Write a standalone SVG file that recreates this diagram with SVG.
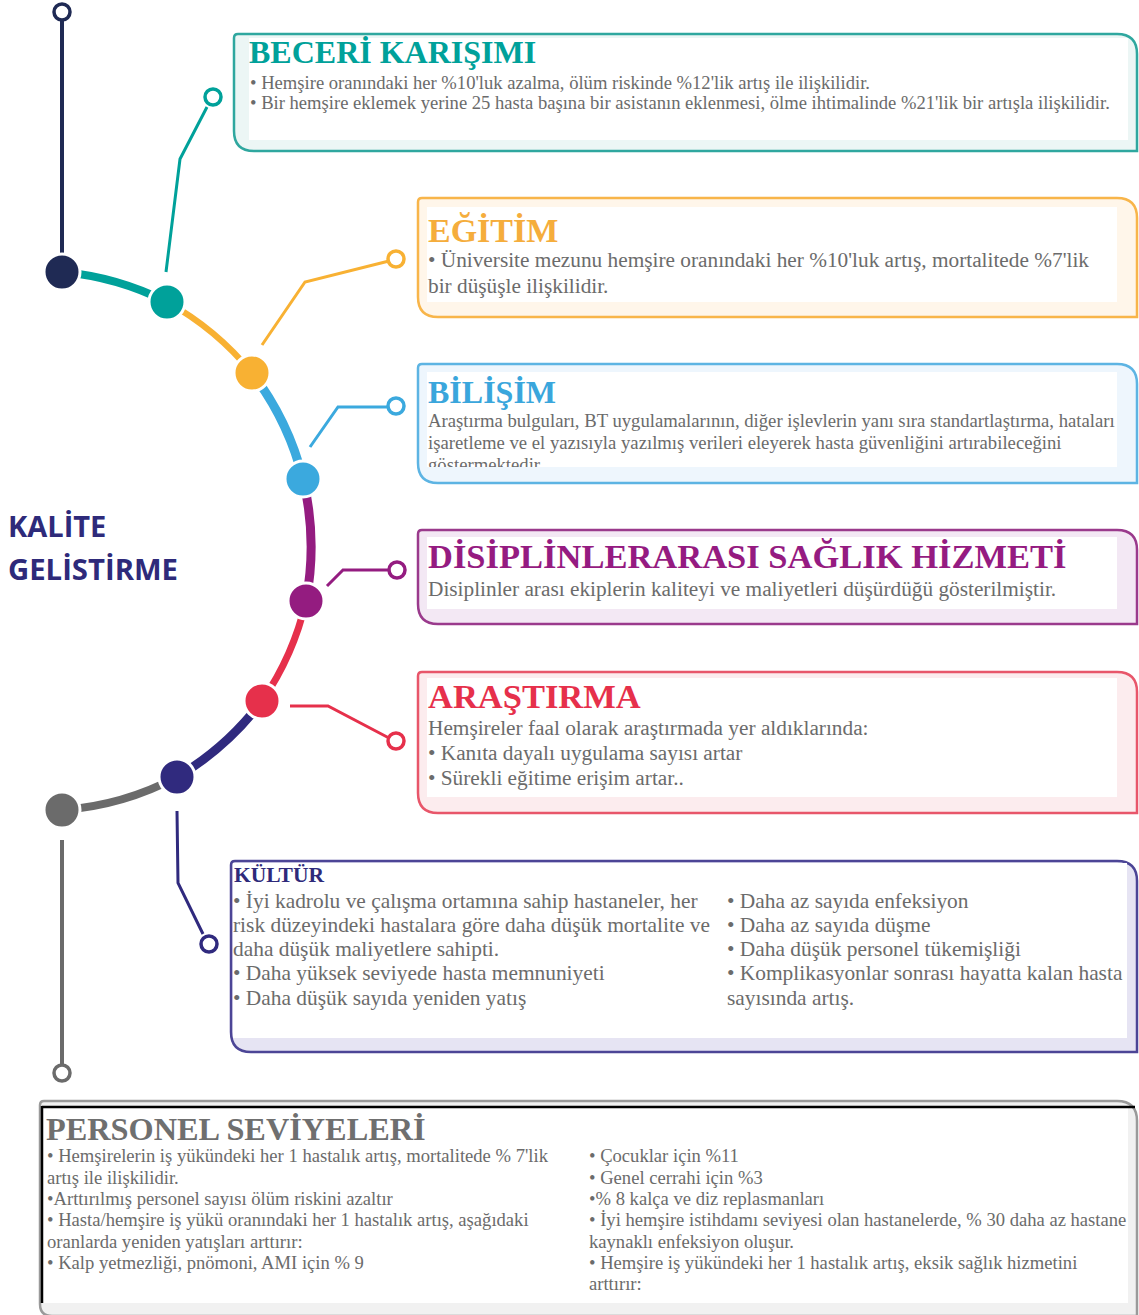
<svg xmlns="http://www.w3.org/2000/svg" width="1139" height="1315" viewBox="0 0 1139 1315">
<defs>
<style>
.body{font-family:"Liberation Serif","Times New Roman",serif;fill:#6b6b6b;}
.ttl{font-family:"Liberation Serif","Times New Roman",serif;font-weight:bold;}
.seg{fill:none;stroke-linecap:butt;}
.br{fill:none;stroke-width:3;stroke-linejoin:miter;}
.ring{fill:#fff;stroke-width:3.5;}
.dot{stroke:#fff;stroke-width:3;}
.frame{stroke-width:2.5;}
.inner{fill:#fff;}
.side{font-family:"Open Sans","DejaVu Sans",sans-serif;font-weight:bold;fill:#2e2a7a;font-size:29px;}
.b1{font-size:18.6px;}
.b2{font-size:21.3px;}
.b3{font-size:18.7px;}
.b4{font-size:21.3px;}
.b6{font-size:21.4px;}
.b7{font-size:18.6px;}
</style>
<clipPath id="clipBilisim"><rect x="427" y="372" width="690" height="95"/></clipPath>
</defs>
<rect width="1139" height="1315" fill="#fff"/>

<g id="side-label">
<text class="side" x="8" y="537">KALİTE</text>
<text class="side" x="8" y="580" textLength="170" lengthAdjust="spacingAndGlyphs">GELİSTİRME</text>
</g>

<g id="connectors">
<line x1="62" y1="20" x2="62" y2="255" stroke="#1f2a54" stroke-width="4"/>
<path class="seg" d="M62,272 A290,290 0 0 1 167,302" stroke="#00a19a" stroke-width="8"/>
<path class="seg" d="M167,302 A290,290 0 0 1 252,373" stroke="#f8b133" stroke-width="6"/>
<path class="seg" d="M252,373 A290,290 0 0 1 303,479" stroke="#3ba9de" stroke-width="9"/>
<path class="seg" d="M303,479 A290,290 0 0 1 306,601" stroke="#941c80" stroke-width="9"/>
<path class="seg" d="M306,601 A290,290 0 0 1 262,701" stroke="#e6304b" stroke-width="7"/>
<path class="seg" d="M262,701 A290,290 0 0 1 177,777" stroke="#302a7e" stroke-width="9"/>
<path class="seg" d="M177,777 A290,290 0 0 1 62,810" stroke="#6b6b6b" stroke-width="8"/>
<line x1="62" y1="840" x2="62" y2="1065" stroke="#6b6b6b" stroke-width="4"/>
<polyline class="br" points="166,272 180,159 207,107" stroke="#00a19a"/>
<polyline class="br" points="262,345 305,282 389,261" stroke="#f8b133"/>
<polyline class="br" points="310,447 338,407 389,407" stroke="#3ba9de"/>
<polyline class="br" points="327,586 343,570 389,570" stroke="#941c80"/>
<polyline class="br" points="290,706 328,706 389,738" stroke="#e6304b"/>
<polyline class="br" points="177,811 178,883 203,934" stroke="#302a7e"/>
<circle class="ring" cx="62" cy="12" r="8" stroke="#1f2a54"/>
<circle class="ring" cx="213" cy="97" r="8" stroke="#00a19a"/>
<circle class="ring" cx="396" cy="259" r="8" stroke="#f8b133"/>
<circle class="ring" cx="396" cy="406" r="8" stroke="#3ba9de"/>
<circle class="ring" cx="397" cy="570" r="8" stroke="#941c80"/>
<circle class="ring" cx="396" cy="741" r="8" stroke="#e6304b"/>
<circle class="ring" cx="209" cy="944" r="8" stroke="#302a7e"/>
<circle class="ring" cx="62" cy="1073" r="8" stroke="#6b6b6b"/>
</g>

<g id="timeline-dots">
<circle class="dot" cx="62" cy="272" r="18" fill="#1f2a54"/>
<circle class="dot" cx="167" cy="302" r="18" fill="#00a19a"/>
<circle class="dot" cx="252" cy="373" r="18" fill="#f8b133"/>
<circle class="dot" cx="303" cy="479" r="18" fill="#3ba9de"/>
<circle class="dot" cx="306" cy="601" r="18" fill="#941c80"/>
<circle class="dot" cx="262" cy="701" r="18" fill="#e6304b"/>
<circle class="dot" cx="177" cy="777" r="18" fill="#302a7e"/>
<circle class="dot" cx="62" cy="810" r="18" fill="#6b6b6b"/>
</g>

<g id="node-beceri">
<path class="frame" d="M238,34 H1117 Q1137,34 1137,54 V151 H254 Q234,151 234,131 V38 Q234,34 238,34 Z" fill="#ecf6f5" stroke="#2fa79f"/>
<rect class="inner" x="249" y="38" width="879" height="102"/>
<text class="ttl" x="249" y="63" font-size="32" fill="#00a19a">BECERİ KARIŞIMI</text>
<text class="body b1" x="250" y="89">• Hemşire oranındaki her %10'luk azalma, ölüm riskinde %12'lik artış ile ilişkilidir.</text>
<text class="body b1" x="250" y="109">• Bir hemşire eklemek yerine 25 hasta başına bir asistanın eklenmesi, ölme ihtimalinde %21'lik bir artışla ilişkilidir.</text>
</g>

<g id="node-egitim">
<path class="frame" d="M422,198 H1117 Q1137,198 1137,218 V317 H438 Q418,317 418,297 V202 Q418,198 422,198 Z" fill="#fff6ea" stroke="#f8b54a"/>
<rect class="inner" x="427" y="207" width="690" height="95"/>
<text class="ttl" x="428" y="242" font-size="34" fill="#f5ad3c">EĞİTİM</text>
<text class="body b2" x="428" y="267">• Üniversite mezunu hemşire oranındaki her %10'luk artış, mortalitede %7'lik</text>
<text class="body b2" x="428" y="293">bir düşüşle ilişkilidir.</text>
</g>

<g id="node-bilisim">
<path class="frame" d="M422,364 H1117 Q1137,364 1137,384 V483 H438 Q418,483 418,463 V368 Q418,364 422,364 Z" fill="#eef6fd" stroke="#5db4e3"/>
<rect class="inner" x="427" y="372" width="690" height="95"/>
<text class="ttl" x="428" y="403" font-size="32" fill="#3aa6dc">BİLİŞİM</text>
<g clip-path="url(#clipBilisim)">
<text class="body b3" x="428" y="427">Araştırma bulguları, BT uygulamalarının, diğer işlevlerin yanı sıra standartlaştırma, hataları</text>
<text class="body b3" x="428" y="449">işaretleme ve el yazısıyla yazılmış verileri eleyerek hasta güvenliğini artırabileceğini</text>
<text class="body b3" x="428" y="471">göstermektedir.</text>
</g>
</g>

<g id="node-disiplin">
<path class="frame" d="M422,530 H1117 Q1137,530 1137,550 V624 H438 Q418,624 418,604 V534 Q418,530 422,530 Z" fill="#f3e8f4" stroke="#9a3a8c"/>
<rect class="inner" x="427" y="537" width="690" height="72"/>
<text class="ttl" x="428" y="568" font-size="34.5" fill="#951b81">DİSİPLİNLERARASI SAĞLIK HİZMETİ</text>
<text class="body b4" x="428" y="596">Disiplinler arası ekiplerin kaliteyi ve maliyetleri düşürdüğü gösterilmiştir.</text>
</g>

<g id="node-arastirma">
<path class="frame" d="M422,672 H1117 Q1137,672 1137,692 V813 H438 Q418,813 418,793 V676 Q418,672 422,672 Z" fill="#fcecee" stroke="#e8566a"/>
<rect class="inner" x="427" y="678" width="690" height="119"/>
<text class="ttl" x="428" y="708" font-size="34.5" fill="#e6304b">ARAŞTIRMA</text>
<text class="body b4" x="428" y="735">Hemşireler faal olarak araştırmada yer aldıklarında:</text>
<text class="body b4" x="428" y="760">• Kanıta dayalı uygulama sayısı artar</text>
<text class="body b4" x="428" y="785">• Sürekli eğitime erişim artar..</text>
</g>

<g id="node-kultur">
<path class="frame" d="M235,861 H1117 Q1137,861 1137,881 V1052 H251 Q231,1052 231,1032 V865 Q231,861 235,861 Z" fill="#e6e4f3" stroke="#4c4596"/>
<rect class="inner" x="233" y="863" width="894" height="175"/>
<text class="ttl" x="234" y="882" font-size="21.5" fill="#2e2a7a">KÜLTÜR</text>
<text class="body b6" x="233" y="907.5">• İyi kadrolu ve çalışma ortamına sahip hastaneler, her</text>
<text class="body b6" x="233" y="932">risk düzeyindeki hastalara göre daha düşük mortalite ve</text>
<text class="body b6" x="233" y="956">daha düşük maliyetlere sahipti.</text>
<text class="body b6" x="233" y="980">• Daha yüksek seviyede hasta memnuniyeti</text>
<text class="body b6" x="233" y="1004.5">• Daha düşük sayıda yeniden yatış</text>
<text class="body b6" x="727" y="907.5">• Daha az sayıda enfeksiyon</text>
<text class="body b6" x="727" y="932">• Daha az sayıda düşme</text>
<text class="body b6" x="727" y="956">• Daha düşük personel tükemişliği</text>
<text class="body b6" x="727" y="980">• Komplikasyonlar sonrası hayatta kalan hasta</text>
<text class="body b6" x="727" y="1004.5">sayısında artış.</text>
</g>

<g id="node-personel">
<path class="frame" d="M44,1101 H1117 Q1137,1101 1137,1121 V1316 H52 Q40,1316 40,1304 V1105 Q40,1101 44,1101 Z" fill="#f1f1f1" stroke="#9a9a9a"/>
<rect class="inner" x="43" y="1108" width="1085" height="195"/>
<line x1="42" y1="1107" x2="1135" y2="1107" stroke="#000" stroke-width="2.5"/>
<line x1="42" y1="1106" x2="42" y2="1303" stroke="#000" stroke-width="2.5"/>
<text class="ttl" x="46" y="1140" font-size="32.3" fill="#6f6f6f">PERSONEL SEVİYELERİ</text>
<text class="body b7" x="47" y="1162">• Hemşirelerin iş yükündeki her 1 hastalık artış, mortalitede % 7'lik</text>
<text class="body b7" x="47" y="1183.5">artış ile ilişkilidir.</text>
<text class="body b7" x="47" y="1205">•Arttırılmış personel sayısı ölüm riskini azaltır</text>
<text class="body b7" x="47" y="1226">• Hasta/hemşire iş yükü oranındaki her 1 hastalık artış, aşağıdaki</text>
<text class="body b7" x="47" y="1247.5">oranlarda yeniden yatışları arttırır:</text>
<text class="body b7" x="47" y="1269">• Kalp yetmezliği, pnömoni, AMI için % 9</text>
<text class="body b7" x="589" y="1162">• Çocuklar için %11</text>
<text class="body b7" x="589" y="1183.5">• Genel cerrahi için %3</text>
<text class="body b7" x="589" y="1205">•% 8 kalça ve diz replasmanları</text>
<text class="body b7" x="589" y="1226">• İyi hemşire istihdamı seviyesi olan hastanelerde, % 30 daha az hastane</text>
<text class="body b7" x="589" y="1247.5">kaynaklı enfeksiyon oluşur.</text>
<text class="body b7" x="589" y="1269">• Hemşire iş yükündeki her 1 hastalık artış, eksik sağlık hizmetini</text>
<text class="body b7" x="589" y="1290">arttırır:</text>
</g>
</svg>
